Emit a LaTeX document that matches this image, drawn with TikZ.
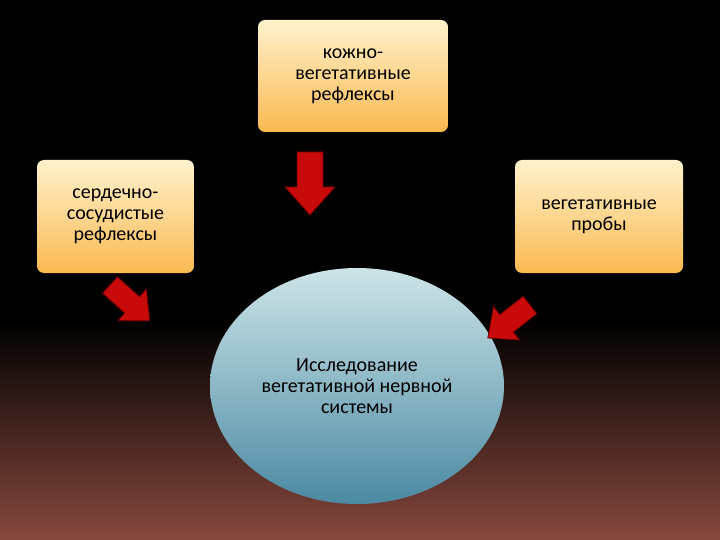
\documentclass[tikz,border=0pt]{standalone}
\usepackage{fontspec}
\setmainfont{Carlito}
\usetikzlibrary{shapes.geometric}
\begin{document}
\begin{tikzpicture}[x=1pt,y=-1pt,
  box/.style={draw=none,rounded corners=7pt,top color={rgb,255:red,255;green,242;blue,205},bottom color={rgb,255:red,250;green,185;blue,80},align=center,font=\fontsize{20}{21}\selectfont,inner sep=0pt},
  barrow/.style={fill={rgb,255:red,200;green,10;blue,10},draw={rgb,255:red,110;green,0;blue,0},line width=0.8pt}]
\useasboundingbox (0,0) rectangle (720,540);
\fill[black] (0,0) rectangle (720,540);
\shade[top color=black,bottom color={rgb,255:red,135;green,72;blue,62}] (0,320) rectangle (720,540);
\node[box,minimum width=190pt,minimum height=112pt] (top) at (353,76) {кожно-\\вегетативные\\рефлексы};
\node[box,minimum width=157pt,minimum height=113pt] (left) at (115.5,216.5) {сердечно-\\сосудистые\\рефлексы};
\node[box,minimum width=168pt,minimum height=113pt] (right) at (599,216.5) {вегетативные\\пробы};
\node[ellipse,minimum width=294pt,minimum height=236pt,inner sep=0pt,top color={rgb,255:red,205;green,228;blue,232},bottom color={rgb,255:red,75;green,138;blue,162},align=center,font=\fontsize{20}{21}\selectfont] (main) at (357,386) {Исследование\\вегетативной нервной\\системы};
\def\blockarrow{(-13,0) -- (13,0) -- (13,35) -- (25,35) -- (0,63) -- (-25,35) -- (-13,35) -- cycle}
\begin{scope}[shift={(310,152)}] \draw[barrow] \blockarrow; \end{scope}
\begin{scope}[shift={(110,285)},rotate=48,scale=0.85] \draw[barrow] \blockarrow; \end{scope}
\begin{scope}[shift={(530,305)},rotate=-52,scale=0.85] \draw[barrow] \blockarrow; \end{scope}
\end{tikzpicture}
\end{document}
